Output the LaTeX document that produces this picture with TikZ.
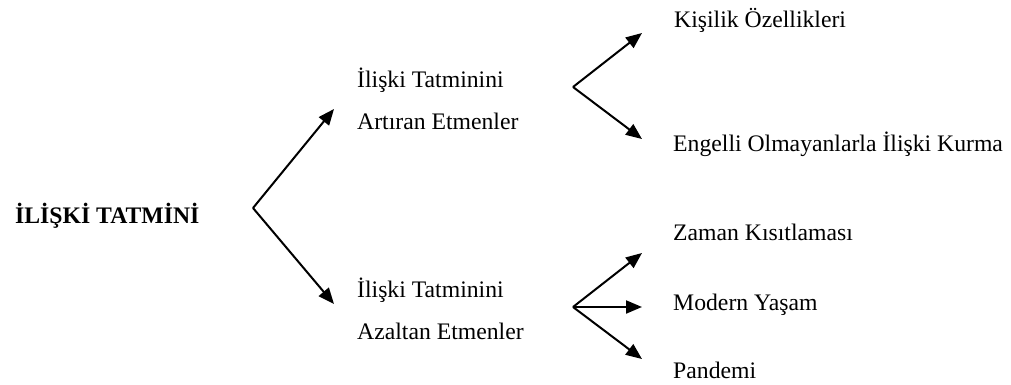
\documentclass[tikz,border=0pt]{standalone}
\usepackage{fontspec}
\setmainfont{Liberation Serif}
\usetikzlibrary{arrows.meta}
\begin{document}
\begin{tikzpicture}[x=1pt,y=-1pt,
  lbl/.style={anchor=base west,inner sep=0pt,align=left,
    font=\fontsize{23.7}{42}\selectfont},
  arr/.style={line width=2pt,-{Triangle[length=16pt,width=13pt]}}]
\useasboundingbox (0,0) rectangle (1011,385);
% labels (multi-line nodes: base = last line)
\node[lbl,font=\fontsize{23.7}{42}\selectfont\bfseries] (root) at (15,223) {İLİŞKİ TATMİNİ};
\node[lbl] (up) at (357,129) {İlişki Tatminini\\Artıran Etmenler};
\node[lbl] (down) at (357,339) {İlişki Tatminini\\Azaltan Etmenler};
\node[lbl] (k1) at (674,28) {Kişilik Özellikleri};
\node[lbl] (k2) at (673,151) {Engelli Olmayanlarla İlişki Kurma};
\node[lbl] (z1) at (673,240) {Zaman Kısıtlaması};
\node[lbl] (z2) at (673,310) {Modern Yaşam};
\node[lbl] (z3) at (673,378) {Pandemi};
% fork points
\coordinate (v0) at (253,208);
\coordinate (v1) at (573,87);
\coordinate (v2) at (573,307);
\coordinate (tUp) at (334,109);
\coordinate (tDown) at (334,304);
\coordinate (tk1) at (642,33);
\coordinate (tk2) at (642,139);
\coordinate (tz1) at (642,253);
\coordinate (tz2) at (642,307);
\coordinate (tz3) at (642,359);
\draw[arr] (v0) -- (tUp);
\draw[arr] (v0) -- (tDown);
\draw[arr] (v1) -- (tk1);
\draw[arr] (v1) -- (tk2);
\draw[arr] (v2) -- (tz1);
\draw[arr] (v2) -- (tz2);
\draw[arr] (v2) -- (tz3);
\end{tikzpicture}
\end{document}
